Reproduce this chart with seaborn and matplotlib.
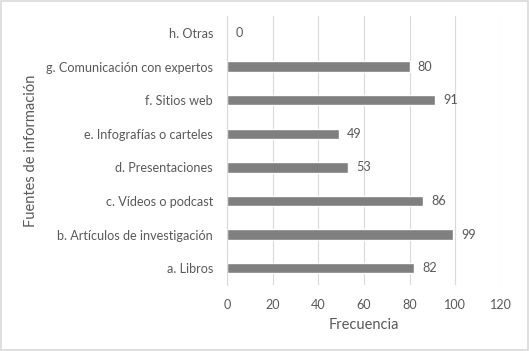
import numpy as np
import pandas as pd
import seaborn as sns
import matplotlib as mpl
import matplotlib.pyplot as plt

# Chart data
fuentes = ["h. Otras", "g. Comunicación con expertos", "f. Sitios web",
           "e. Infografías o carteles", "d. Presentaciones",
           "c. Vídeos o podcast", "b. Artículos de investigación", "a. Libros"]
frecuencia = [0, 80, 91, 49, 53, 86, 99, 82]
x_ticks = [0, 20, 40, 60, 80, 100, 120]

sns.set_style("white")
mpl.rcParams["font.family"] = ["Lato", "DejaVu Sans"]
text_color = "#595959"
fs = 9.1

df = pd.DataFrame({"fuente": fuentes, "frecuencia": frecuencia})

fig = plt.figure(figsize=(5.29, 3.51), dpi=100)
ax = fig.add_axes([0.429, 0.188, 0.518, 0.766])

sns.barplot(data=df, y="fuente", x="frecuencia", orient="h",
            color="#7f7f7f", saturation=1, width=0.31, ax=ax)

# Value labels
for i, v in enumerate(frecuencia):
    ax.text(v + 3.6, i, str(v), va="center", ha="left",
            color=text_color, fontsize=fs)

ax.set_xlim(0, 120)
ax.set_xticks(x_ticks)
ax.set_ylim(len(fuentes) - 0.5, -0.5)
ax.xaxis.grid(True, color="#d9d9d9", linewidth=0.8)
ax.set_axisbelow(True)
for s in ["top", "right", "bottom"]:
    ax.spines[s].set_visible(False)
ax.spines["left"].set_color("#d9d9d9")
ax.spines["left"].set_linewidth(0.8)
ax.tick_params(axis="both", length=0, colors=text_color, labelsize=fs)
ax.tick_params(axis="y", pad=10)
ax.tick_params(axis="x", pad=10)

ax.set_xlabel("Frecuencia", color=text_color, fontsize=10.5, labelpad=5)
ax.set_ylabel("Fuentes de información", color=text_color, fontsize=10.5)
ax.yaxis.set_label_coords(-0.69, 0.5)

# Light border round the figure
fig.patches.append(mpl.patches.Rectangle((0.002, 0.003), 0.996, 0.994,
                                         transform=fig.transFigure,
                                         fill=False, edgecolor="#d9d9d9",
                                         linewidth=1.2))

plt.savefig("out.png", dpi=100)
